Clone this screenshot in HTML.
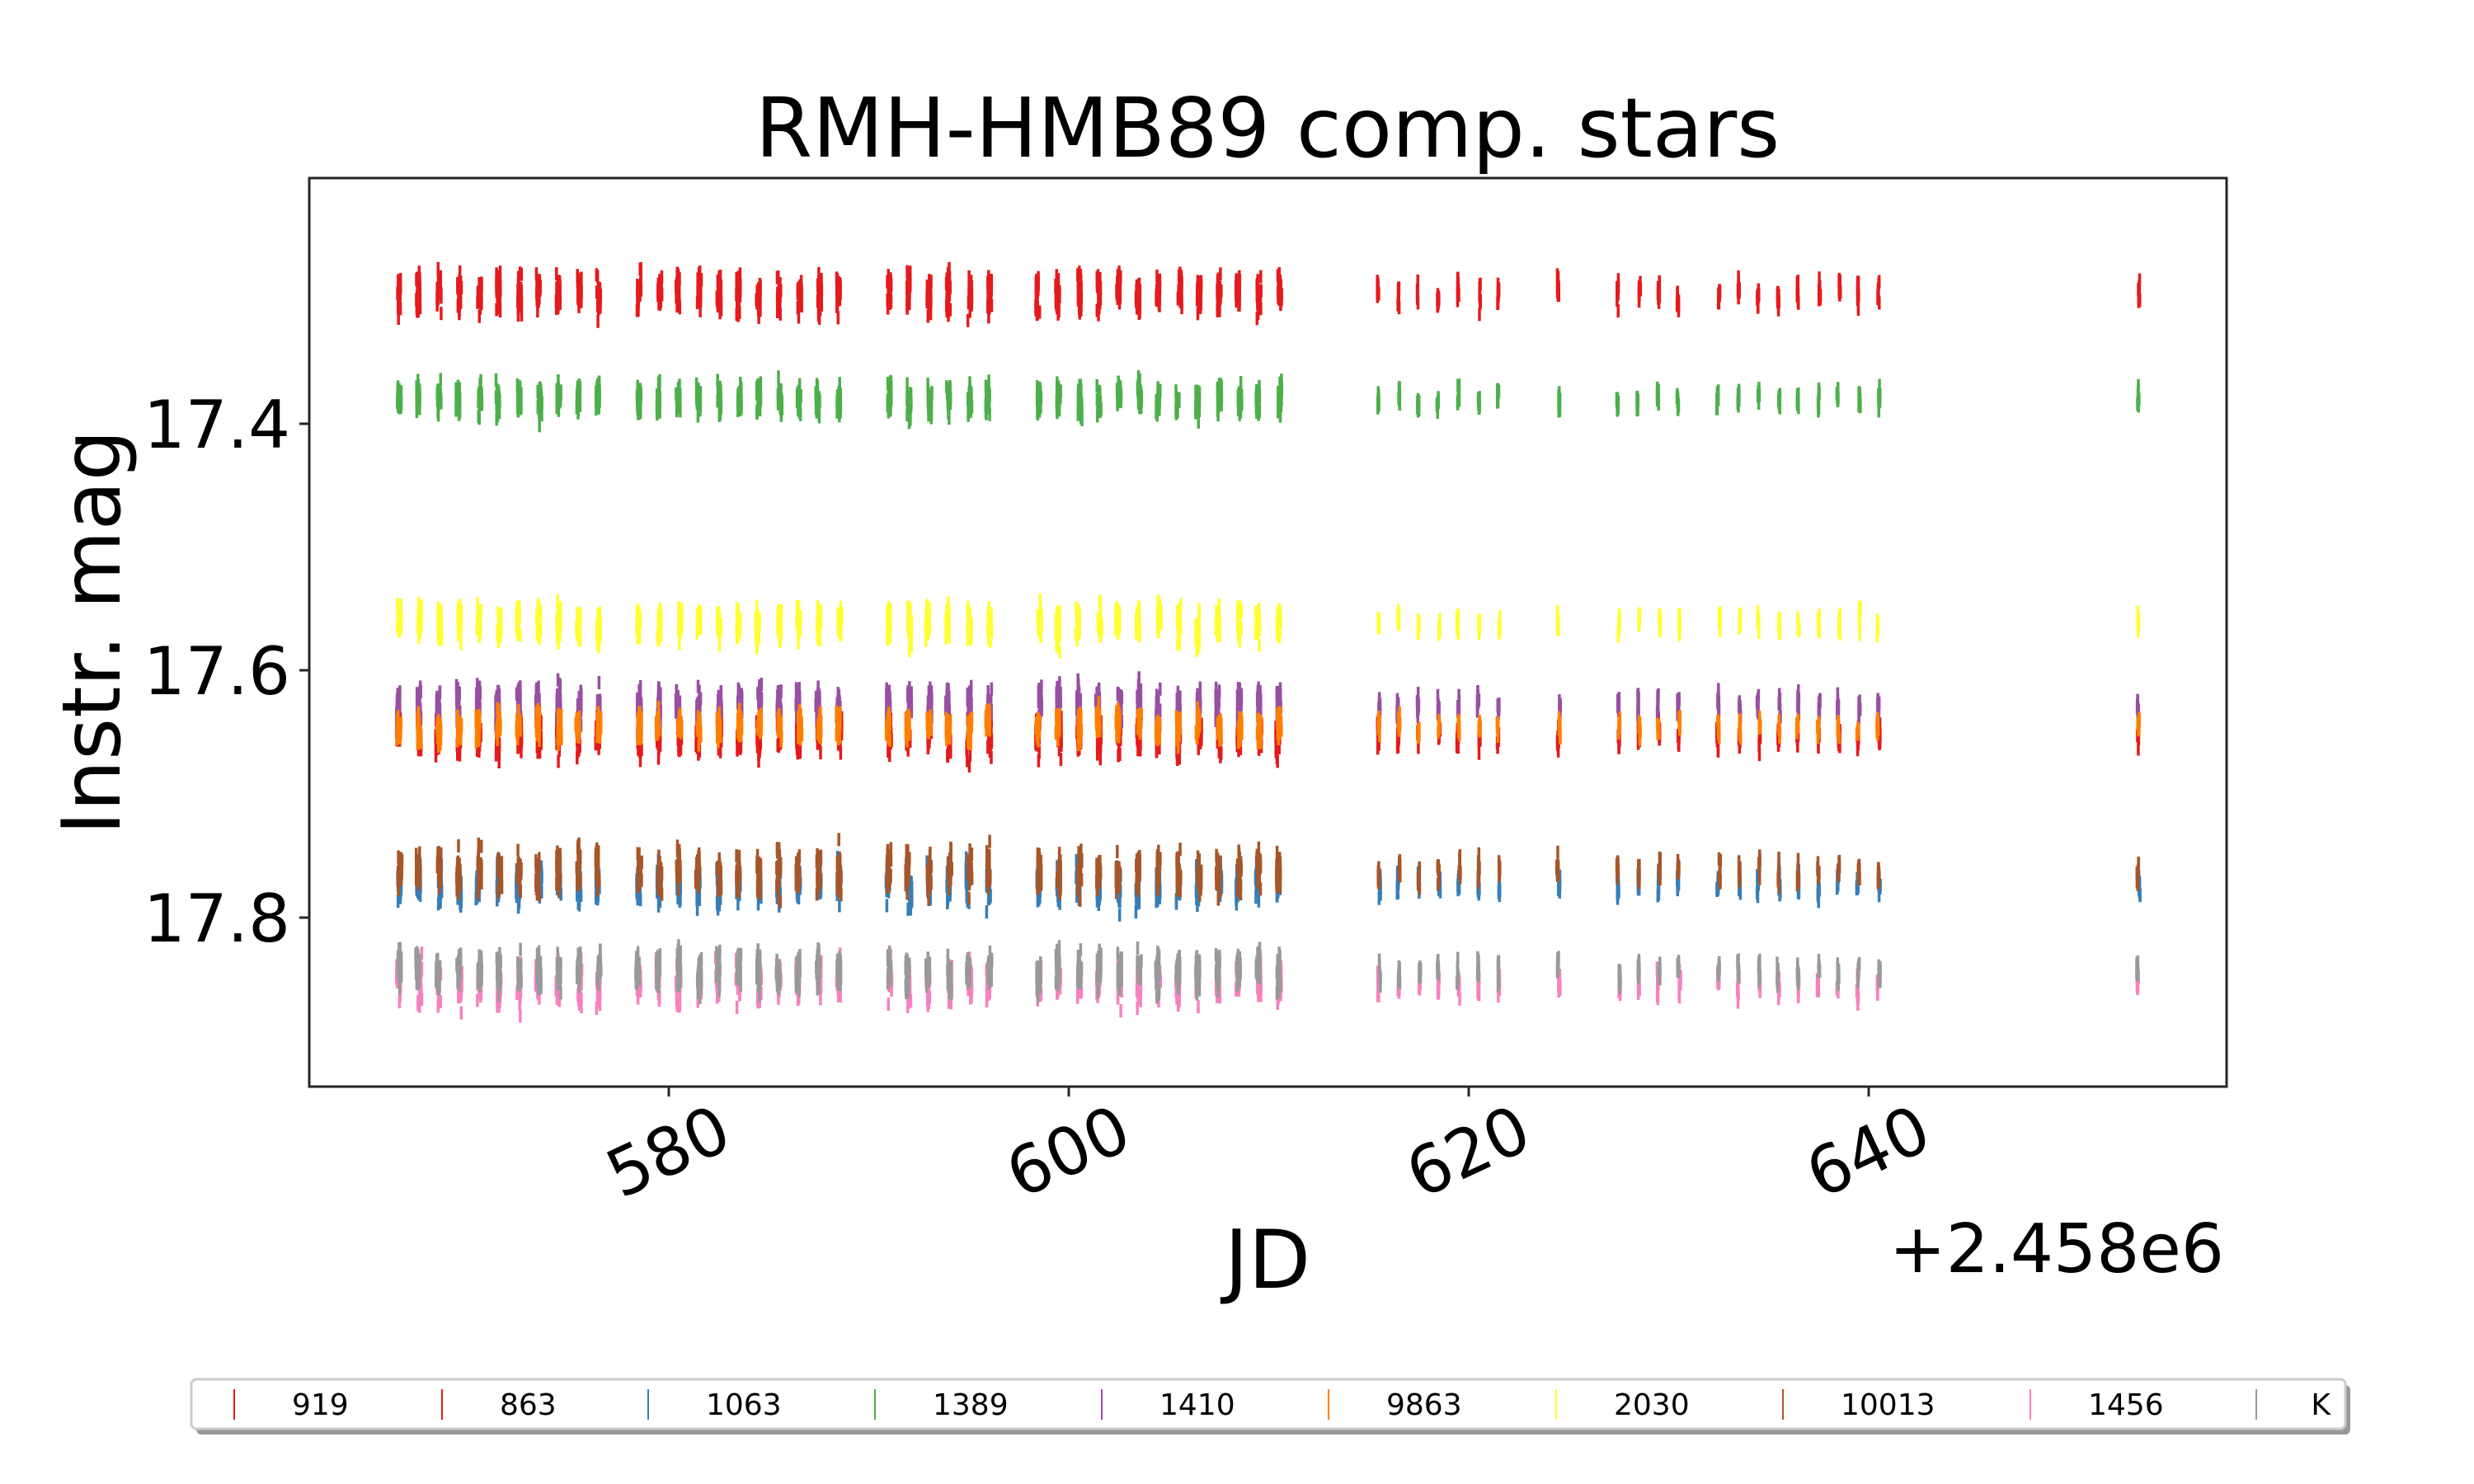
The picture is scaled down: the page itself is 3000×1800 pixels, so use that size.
<!DOCTYPE html>
<html><head><meta charset="utf-8">
<style>
html,body{margin:0;padding:0;background:#fff;}
svg{display:block;font-family:"DejaVu Sans","Liberation Sans",sans-serif;}
</style></head>
<body>
<svg id="s" width="3000" height="1800" xmlns="http://www.w3.org/2000/svg">
<rect width="3000" height="1800" fill="#fff"/>
<g id="data"></g>
<rect x="375" y="216" width="2325" height="1102" fill="none" stroke="#262626" stroke-width="3"/>
<text x="1537" y="190" font-size="100" text-anchor="middle">RMH-HMB89 comp. stars</text>
<g font-size="80" text-anchor="end">
<line x1="363" y1="514" x2="375" y2="514" stroke="#262626" stroke-width="3"/>
<text x="352" y="543">17.4</text>
<line x1="363" y1="813" x2="375" y2="813" stroke="#262626" stroke-width="3"/>
<text x="352" y="842">17.6</text>
<line x1="363" y1="1113" x2="375" y2="1113" stroke="#262626" stroke-width="3"/>
<text x="352" y="1142">17.8</text>
</g>
<text transform="translate(145,767) rotate(-90)" font-size="98" text-anchor="middle">Instr. mag</text>
<g font-size="80" text-anchor="middle">
<line x1="811" y1="1318" x2="811" y2="1330" stroke="#262626" stroke-width="3"/>
<text transform="translate(822,1422) rotate(-25)">580</text>
<line x1="1296" y1="1318" x2="1296" y2="1330" stroke="#262626" stroke-width="3"/>
<text transform="translate(1307,1422) rotate(-25)">600</text>
<line x1="1781" y1="1318" x2="1781" y2="1330" stroke="#262626" stroke-width="3"/>
<text transform="translate(1792,1422) rotate(-25)">620</text>
<line x1="2266" y1="1318" x2="2266" y2="1330" stroke="#262626" stroke-width="3"/>
<text transform="translate(2277,1422) rotate(-25)">640</text>
</g>
<text x="1537" y="1562" font-size="98" text-anchor="middle">JD</text>
<text x="2697" y="1543" font-size="82" text-anchor="end">+2.458e6</text>
<rect x="238" y="1680" width="2612" height="60" rx="6" fill="#999"/>
<rect x="232" y="1673" width="2612" height="60" rx="6" fill="#fff" stroke="#ccc" stroke-width="3"/>
<g id="leg" font-size="36"></g>
</svg>
<script>
var ns="http://www.w3.org/2000/svg";
var g=document.getElementById("data");
var seed=12345;function rnd(){seed=(seed*1103515245+12345)%2147483648;return seed/2147483648;}
function gau(){return (rnd()+rnd()+rnd()+rnd()-2)*1.2;}
function X(d){return 811+(d-580)*24.25;}
var nights=[];
function rng(a,b){for(var d=a;d<=b+0.01;d+=1)nights.push(d);}
rng(566.5,576.5);rng(578.5,588.5);rng(591,596.5);rng(598.5,610.5);rng(615.5,621.5);rng(624.5,624.5);rng(627.5,630.5);rng(632.5,640.5);rng(653.5,653.5);
var series=[
["919","#e41a1c",356,17],["863","#e41a1c",892,17],["1063","#377eb8",1072,17],["1389","#4daf4a",485,14],
["1410","#984ea3",856,16],["9863","#ff7f00",882,12],["2030","#ffff33",756,15],["10013","#a65628",1058,18],
["1456","#f781bf",1192,18],["K","#999999",1178,16]];
var out="";
series.forEach(function(s){
 nights.forEach(function(d){
  var late=d>612, n=late?10:26, sd=s[3]*(late?0.65:1);
  var cx=X(d)+(rnd()-0.5)*3;
  var off=gau()*4;
  for(var i=0;i<n;i++){
   var x=cx+(rnd()-0.5)*(late?2:5);
   var y=s[2]+off+gau()*sd;
   out+='<line x1="'+x.toFixed(1)+'" y1="'+(y-8).toFixed(1)+'" x2="'+x.toFixed(1)+'" y2="'+(y+8).toFixed(1)+'" stroke="'+s[1]+'" stroke-width="3.5"/>';
  }
 });
});
g.innerHTML=out;
var lx=[284,536,786,1061,1336,1611,1887,2162,2462,2736];
var L="";
series.forEach(function(s,i){
 L+='<line x1="'+lx[i]+'" y1="1685" x2="'+lx[i]+'" y2="1722" stroke="'+s[1]+'" stroke-width="2"/>';
 L+='<text x="'+(lx[i]+70)+'" y="1716" text-anchor="'+(s[0]=="K"?"end":"start")+'" '+(s[0]=="K"?'dx="20"':'')+'>'+s[0]+'</text>';
});
document.getElementById("leg").innerHTML=L;
</script>
</body></html>
